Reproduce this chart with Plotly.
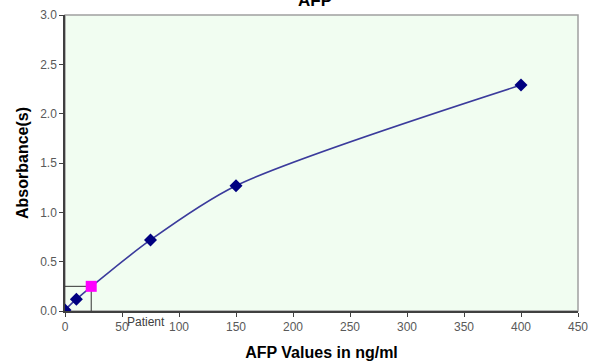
import plotly.graph_objects as go

afp = [0, 10, 75, 150, 400]
absorbance = [0.01, 0.12, 0.72, 1.27, 2.29]
patient_afp = [23]
patient_abs = [0.25]
x_ticks = [0, 50, 100, 150, 200, 250, 300, 350, 400, 450]
y_ticks = [0.0, 0.5, 1.0, 1.5, 2.0, 2.5, 3.0]

fig = go.Figure()
# guide lines for patient
fig.add_trace(go.Scatter(x=[0, patient_afp[0], patient_afp[0]], y=[patient_abs[0], patient_abs[0], 0],
                         mode="lines", line=dict(color="#333333", width=1), hoverinfo="skip", showlegend=False))
fig.add_trace(go.Scatter(x=afp, y=absorbance, mode="lines+markers",
                         line=dict(color="#3b3b9c", width=1.6, shape="spline", smoothing=0.8),
                         marker=dict(symbol="diamond", size=10, color="#000080"), showlegend=False))
fig.add_trace(go.Scatter(x=patient_afp, y=patient_abs, mode="markers",
                         marker=dict(symbol="square", size=11, color="#ff00ff"), showlegend=False))

fig.update_layout(
    width=591, height=364,
    margin=dict(l=65, r=13, t=15, b=53, autoexpand=False),
    paper_bgcolor="white", plot_bgcolor="#f1fdf1",
    title=dict(text="<b>AFP</b>", x=0.533, xanchor="center", y=1.0, yanchor="middle", yref="container",
               automargin=False,
               font=dict(family="Arial, Liberation Sans", size=17, color="#000000")),
    font=dict(family="Arial, Liberation Sans", color="#595959"),
    shapes=[dict(type="rect", xref="paper", yref="paper", x0=0, y0=0, x1=1, y1=1,
                 line=dict(color="#a0a0a0", width=1.5), layer="below")],
    annotations=[dict(x=patient_afp[0] + 48, y=0, xref="x", yref="paper", yshift=-2, text="Patient",
                      showarrow=False, yanchor="top", xanchor="center",
                      font=dict(family="Arial, Liberation Sans", size=12, color="#404040"))],
)
fig.update_xaxes(range=[0, 450], tickvals=x_ticks, ticks="outside", ticklen=4, tickcolor="#404040",
                 showgrid=False, zeroline=False, showline=True, linecolor="#404040", linewidth=1.5,
                 automargin=False, tickfont=dict(size=12, color="#595959"),
                 title=dict(text="<b>AFP Values in ng/ml</b>", font=dict(size=16, color="#000000"), standoff=14))
fig.update_yaxes(range=[0, 3.0], tickvals=y_ticks, tickformat=".1f", ticks="outside", ticklen=4, tickcolor="#404040",
                 showgrid=False, zeroline=False, showline=True, linecolor="#404040", linewidth=1.5,
                 automargin=False, tickfont=dict(size=12, color="#595959"),
                 title=dict(text="<b>Absorbance(s)</b>", font=dict(size=16, color="#000000"), standoff=8))

fig.write_html("out.html", config={"displayModeBar": False},
               post_script="document.body.style.margin='0';document.body.style.overflow='hidden';")
